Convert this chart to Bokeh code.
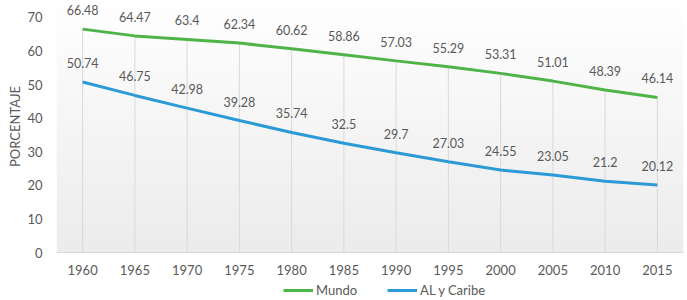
import numpy as np
from bokeh.plotting import figure
from bokeh.layouts import column
from bokeh.models import ColumnDataSource, FixedTicker, Legend, LegendItem, Range1d, Title
from bokeh.core.properties import value
from bokeh.embed import file_html
from bokeh.resources import INLINE

years = ["1960", "1965", "1970", "1975", "1980", "1985", "1990", "1995", "2000", "2005", "2010", "2015"]
mundo = [66.48, 64.47, 63.4, 62.34, 60.62, 58.86, 57.03, 55.29, 53.31, 51.01, 48.39, 46.14]
al_caribe = [50.74, 46.75, 42.98, 39.28, 35.74, 32.5, 29.7, 27.03, 24.55, 23.05, 21.2, 20.12]
y_ticks = [0, 10, 20, 30, 40, 50, 60, 70]
series_names = ["Mundo", "AL y Caribe"]

FONT = "Lato"
GREEN = "#4fb447"
BLUE = "#2c9ad6"
TXT = "#595959"

idx = list(range(len(years)))
src = ColumnDataSource(dict(
    x=idx, mundo=mundo, al=al_caribe, zero=[0] * len(idx),
    mundo_lbl=[str(v) for v in mundo], al_lbl=[str(v) for v in al_caribe],
))

p = figure(width=687, height=282, x_range=Range1d(-0.5, len(years) - 0.5),
           y_range=Range1d(0, 75), output_backend="svg", toolbar_location=None,
           min_border_left=56, min_border_right=4, min_border_top=0, min_border_bottom=30)
p.outline_line_color = None
p.background_fill_color = "white"
p.border_fill_color = "white"
p.grid.grid_line_color = None

# gradient plot-area background
n = 128
g = np.linspace(236, 255, n)
img = np.empty((n, 1), dtype=np.uint32)
view = img.view(dtype=np.uint8).reshape((n, 1, 4))
view[:, 0, 0] = g.astype(np.uint8)
view[:, 0, 1] = g.astype(np.uint8)
view[:, 0, 2] = g.astype(np.uint8)
view[:, 0, 3] = 255
p.image_rgba(image=[img], x=-0.5, y=0, dw=len(years), dh=75)

# vertical grid lines (fading under the top line)
p.segment(x0="x", y0="zero", x1="x", y1="mundo", source=src, line_color="#d9d9d9", line_width=1)

p.line("x", "mundo", source=src, line_color=GREEN, line_width=3)
p.line("x", "al", source=src, line_color=BLUE, line_width=3)

for col in ["mundo", "al"]:
    p.text(x="x", y=col, text=col + "_lbl", source=src, text_align="center",
           text_baseline="middle", y_offset=-19, text_color=TXT,
           text_font=value(FONT), text_font_size="12.5px")

p.xaxis.ticker = FixedTicker(ticks=idx)
p.xaxis.major_label_overrides = {i: y for i, y in enumerate(years)}
p.yaxis.ticker = FixedTicker(ticks=y_ticks)
for ax in [p.xaxis, p.yaxis]:
    ax.major_tick_line_color = None
    ax.minor_tick_line_color = None
    ax.major_tick_out = 0
    ax.major_tick_in = 0
    ax.minor_tick_out = 0
    ax.minor_tick_in = 0
    ax.major_label_text_color = TXT
    ax.major_label_text_font = FONT
    ax.major_label_text_font_size = "13px"
p.yaxis.axis_line_color = None
p.xaxis.axis_line_color = "#d9d9d9"
p.xaxis.major_label_standoff = 12
p.yaxis.major_label_standoff = 14

ytitle = Title(text="PORCENTAJE", align="center", offset=8, standoff=4,
               text_font=FONT, text_font_style="normal", text_font_size="13px",
               text_color=TXT)
p.add_layout(ytitle, "left")

# legend strip below the chart
lf = figure(width=687, height=18, x_range=Range1d(0, 1), y_range=Range1d(0, 1),
            output_backend="svg", toolbar_location=None,
            min_border_left=0, min_border_right=0, min_border_top=0, min_border_bottom=0)
lf.axis.visible = False
lf.grid.grid_line_color = None
lf.outline_line_color = None
lf.border_fill_color = "white"
lr1 = lf.line(x=[np.nan, np.nan], y=[np.nan, np.nan], line_color=GREEN, line_width=3)
lr2 = lf.line(x=[np.nan, np.nan], y=[np.nan, np.nan], line_color=BLUE, line_width=3)
legend = Legend(items=[LegendItem(label=series_names[0], renderers=[lr1]),
                       LegendItem(label=series_names[1], renderers=[lr2])],
                orientation="horizontal", location=(227, 2),
                border_line_color=None, background_fill_alpha=0,
                glyph_width=30, glyph_height=10, label_standoff=3, spacing=30,
                padding=0, margin=0, label_text_font=FONT,
                label_text_font_size="13px", label_text_color=TXT,
                label_height=14)
lf.add_layout(legend)

layout = column(p, lf, spacing=0)
open("out.html", "w").write(file_html(layout, INLINE))
